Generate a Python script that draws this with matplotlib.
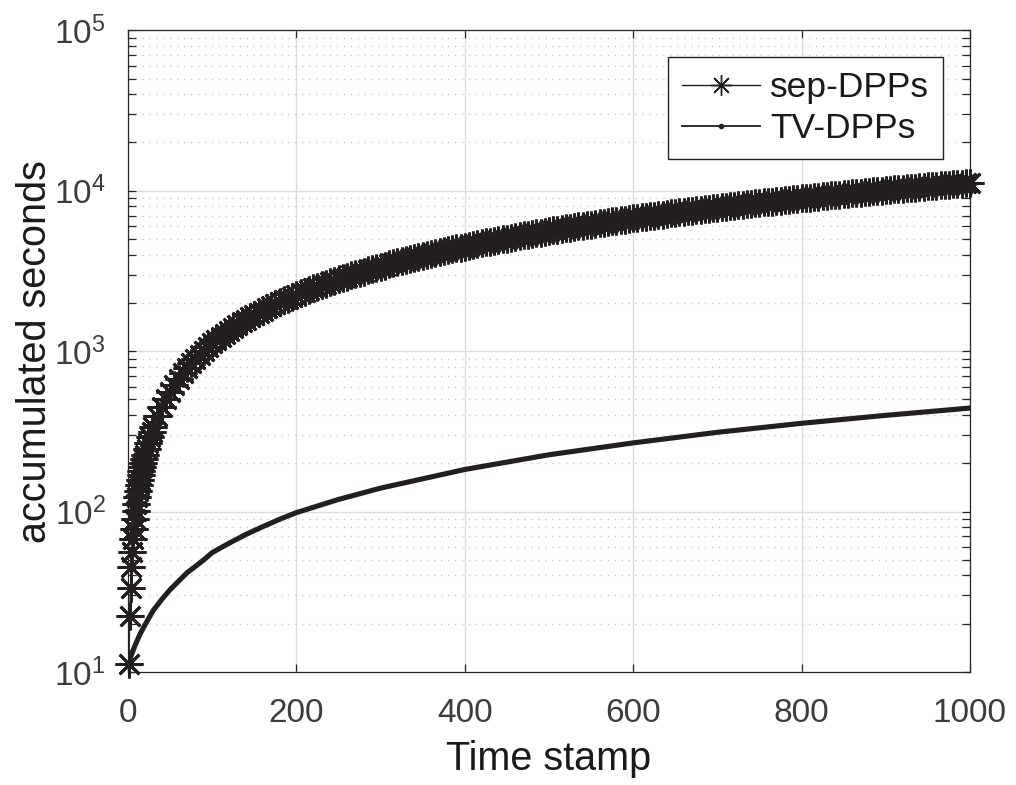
import matplotlib
matplotlib.use("Agg")
import matplotlib.pyplot as plt
from matplotlib.lines import Line2D
from matplotlib.ticker import LogLocator, NullFormatter, FixedLocator

plt.rcParams['font.family'] = ['Liberation Sans', 'DejaVu Sans']
plt.rcParams['mathtext.default'] = 'regular'

# ---- data ----
# time stamps at which sep-DPPs values were read
sep_t = ([1, 2, 3, 4, 5, 6, 7, 8, 9, 10, 11, 12, 13, 14, 15, 16, 17, 18, 19, 20,
          22, 24, 26, 28, 30, 35, 40, 45, 50, 55, 60, 65, 70, 75, 80, 85, 90, 95, 100]
         + list(range(105, 1001, 5)))
sep_sec = [11.2, 22.4, 33.6, 44.8, 56.0, 67.2, 78.4, 89.6, 101, 112,
           123, 134, 146, 157, 168, 179, 190, 202, 213, 224,
           246, 269, 291, 314, 336, 392, 448, 504, 560, 616, 672, 728, 784, 840,
           896, 952, 1008, 1064, 1120,
           1176, 1232, 1288, 1344, 1400, 1456, 1512, 1568, 1624, 1680,
           1736, 1792, 1848, 1904, 1960, 2016, 2072, 2128, 2184, 2240,
           2296, 2352, 2408, 2464, 2520, 2576, 2632, 2688, 2744, 2800,
           2856, 2912, 2968, 3024, 3080, 3136, 3192, 3248, 3304, 3360,
           3416, 3472, 3528, 3584, 3640, 3696, 3752, 3808, 3864, 3920,
           3976, 4032, 4088, 4144, 4200, 4256, 4312, 4368, 4424, 4480,
           4536, 4592, 4648, 4704, 4760, 4816, 4872, 4928, 4984, 5040,
           5096, 5152, 5208, 5264, 5320, 5376, 5432, 5488, 5544, 5600,
           5656, 5712, 5768, 5824, 5880, 5936, 5992, 6048, 6104, 6160,
           6216, 6272, 6328, 6384, 6440, 6496, 6552, 6608, 6664, 6720,
           6776, 6832, 6888, 6944, 7000, 7056, 7112, 7168, 7224, 7280,
           7336, 7392, 7448, 7504, 7560, 7616, 7672, 7728, 7784, 7840,
           7896, 7952, 8008, 8064, 8120, 8176, 8232, 8288, 8344, 8400,
           8456, 8512, 8568, 8624, 8680, 8736, 8792, 8848, 8904, 8960,
           9016, 9072, 9128, 9184, 9240, 9296, 9352, 9408, 9464, 9520,
           9576, 9632, 9688, 9744, 9800, 9856, 9912, 9968, 10024, 10080,
           10136, 10192, 10248, 10304, 10360, 10416, 10472, 10528, 10584, 10640,
           10696, 10752, 10808, 10864, 10920, 10976, 11032, 11088, 11144, 11200]

tv_t = [1, 2, 3, 4, 5, 6, 8, 10, 12, 15, 20, 25, 30, 40, 50, 60, 70, 80, 90, 100,
        120, 140, 160, 180, 200, 250, 300, 400, 500, 600, 700, 800, 900, 1000]
tv_sec = [11.3, 11.9, 12.3, 12.8, 13.2, 13.6, 14.5, 15.3, 16.2, 17.5, 19.6, 21.8, 24.2,
          28.3, 32.6, 36.8, 41.5, 45.5, 50.0, 55.5, 63.5, 72.0, 80.5, 89.5, 98.5,
          119, 140, 183, 226, 268, 312, 355, 398, 442]

x_ticks = [0, 200, 400, 600, 800, 1000]
labels = ['sep-DPPs', 'TV-DPPs']
xlabel = 'Time stamp'
ylabel = 'accumulated seconds'

ink = '#231f20'
axcol = '#262626'

fig = plt.figure(figsize=(10.16, 7.85), dpi=100)
ax = fig.add_axes([0.126, 0.144, 0.8287, 0.8173])

ax.plot(tv_t, tv_sec, color=ink, lw=3.7, solid_capstyle='round',
        solid_joinstyle='round', zorder=3)
ax.plot(sep_t, sep_sec, color=ink, lw=1.0, marker=(8, 2, 0), ms=20, mew=2.0,
        mec=ink, zorder=4, clip_on=False)

ax.set_yscale('log')
ax.set_xlim(0, 1000)
ax.set_ylim(10, 1e5)
ax.xaxis.set_major_locator(FixedLocator(x_ticks))
ax.yaxis.set_major_locator(LogLocator(base=10, numticks=10))
ax.yaxis.set_minor_locator(LogLocator(base=10, subs=range(2, 10), numticks=20))
ax.yaxis.set_minor_formatter(NullFormatter())

ax.grid(True, which='major', color='#dcdcdc', lw=1.0, zorder=0)
ax.grid(True, which='minor', axis='y', color='#c8c8c8', lw=1.0,
        linestyle=(0, (1, 4)), zorder=0)
ax.set_axisbelow(True)

for s in ax.spines.values():
    s.set_color(axcol)
    s.set_linewidth(0.9)
ax.tick_params(which='both', direction='in', top=True, right=True,
               color=axcol, width=0.9, length=6)
ax.tick_params(axis='x', which='major', labelsize=24, labelcolor='#3c3c3c', pad=19)
ax.tick_params(axis='y', which='major', labelsize=24, labelcolor='#3c3c3c', pad=16)

ax.set_xlabel(xlabel, fontsize=28.5, color='#1a1a1a', labelpad=8)
ax.set_ylabel(ylabel, fontsize=28.5, color='#1a1a1a', labelpad=0)

handles = [
    Line2D([], [], color=ink, lw=1.0, marker=(8, 2, 0), ms=15, mew=1.0),
    Line2D([], [], color=ink, lw=1.3, marker='.', ms=6),
]
leg = ax.legend(handles, labels, loc='upper right', fontsize=25.5,
                frameon=True, fancybox=False, edgecolor=ink, framealpha=1,
                handlelength=2.2, handletextpad=0.3, borderpad=0.4,
                labelspacing=0.22, borderaxespad=0.75)
leg.get_frame().set_linewidth(1.0)
for t in leg.get_texts():
    t.set_color('#1a1a1a')

fig.savefig('out.png', dpi=100)
